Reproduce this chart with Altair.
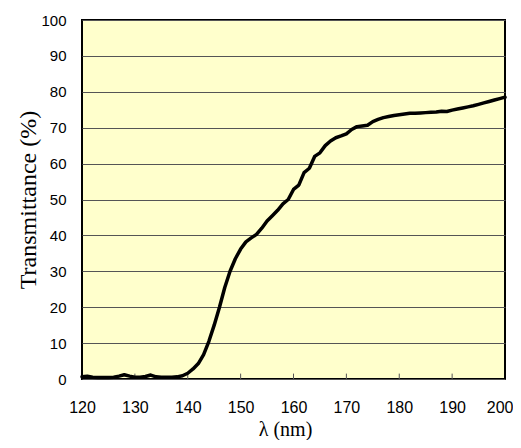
import altair as alt
import pandas as pd

wavelength = list(range(120, 201))
transmittance = [
    0.6, 0.8, 0.5, 0.4, 0.4, 0.4, 0.5, 0.8, 1.2, 0.8,
    0.5, 0.5, 0.7, 1.1, 0.6, 0.5, 0.5, 0.5, 0.6, 0.9,
    1.6, 2.8, 4.3, 6.8, 10.5, 15.0, 20.0, 25.5, 30.0, 33.5,
    36.2, 38.2, 39.3, 40.3, 42.0, 44.0, 45.5, 47.0, 48.8, 50.0,
    52.8, 54.0, 57.5, 58.7, 62.0, 63.0, 65.0, 66.3, 67.2, 67.7,
    68.3, 69.5, 70.3, 70.5, 70.7, 71.7, 72.3, 72.8, 73.1, 73.4,
    73.6, 73.8, 74.0, 74.0, 74.1, 74.2, 74.3, 74.4, 74.6, 74.5,
    74.9, 75.2, 75.5, 75.8, 76.1, 76.5, 76.9, 77.3, 77.7, 78.1,
    78.5,
]
x_ticks = [120, 130, 140, 150, 160, 170, 180, 190, 200]
y_ticks = [0, 10, 20, 30, 40, 50, 60, 70, 80, 90, 100]
inner_ticks = [130, 140, 150, 160, 170, 180, 190]

df = pd.DataFrame({"wl": wavelength, "t": transmittance})
tick_df = pd.DataFrame({"wl": inner_ticks, "y0": [0] * len(inner_ticks), "y1": [1.5] * len(inner_ticks)})

xscale = alt.Scale(domain=[120, 200], nice=False)
yscale = alt.Scale(domain=[0, 100], nice=False)

x_axis = alt.Axis(values=x_ticks, title="λ (nm)", grid=False, ticks=False, domain=False,
                  labelFont="Liberation Sans", labelFontSize=16, labelColor="black",
                  labelPadding=20, titleFont="Liberation Serif", titleFontSize=20,
                  titleFontWeight="normal", titleColor="black", titlePadding=4,
                  titleX=203,
                  labelAlign=alt.ExprRef(expr="datum.value == 200 ? 'right' : 'center'"),
                  labelOffset=alt.ExprRef(expr="datum.value == 200 ? 8 : 0"),
                  labelFlush=False, labelOverlap=False)
y_axis = alt.Axis(values=y_ticks, title="Transmittance (%)", grid=True, gridColor="#555555",
                  gridWidth=1, gridOpacity=1, ticks=False, domain=False,
                  labelFont="Liberation Sans", labelFontSize=15, labelColor="black",
                  labelPadding=16, titleFont="Liberation Serif", titleFontSize=24,
                  titleFontWeight="normal", titleColor="black", titlePadding=0,
                  labelOverlap=False)

ticks = alt.Chart(tick_df).mark_rule(color="#555555", strokeWidth=1).encode(
    x=alt.X("wl:Q", scale=xscale, axis=x_axis),
    y=alt.Y("y0:Q", scale=yscale, axis=y_axis),
    y2="y1:Q",
)

line = alt.Chart(df).mark_line(color="black", strokeWidth=3.5, strokeJoin="round", strokeCap="round").encode(
    x=alt.X("wl:Q", scale=xscale, axis=x_axis),
    y=alt.Y("t:Q", scale=yscale, axis=y_axis),
)

chart = alt.layer(ticks, line).properties(
    width=423, height=359,
    autosize=alt.AutoSizeParams(type="none"),
    padding={"left": 74, "top": 12, "right": 8, "bottom": 61},
).configure_view(
    fill="#FFFFCC", stroke="black", strokeWidth=2
)

chart.save("out.html", embed_options={"renderer": "svg", "actions": False})
